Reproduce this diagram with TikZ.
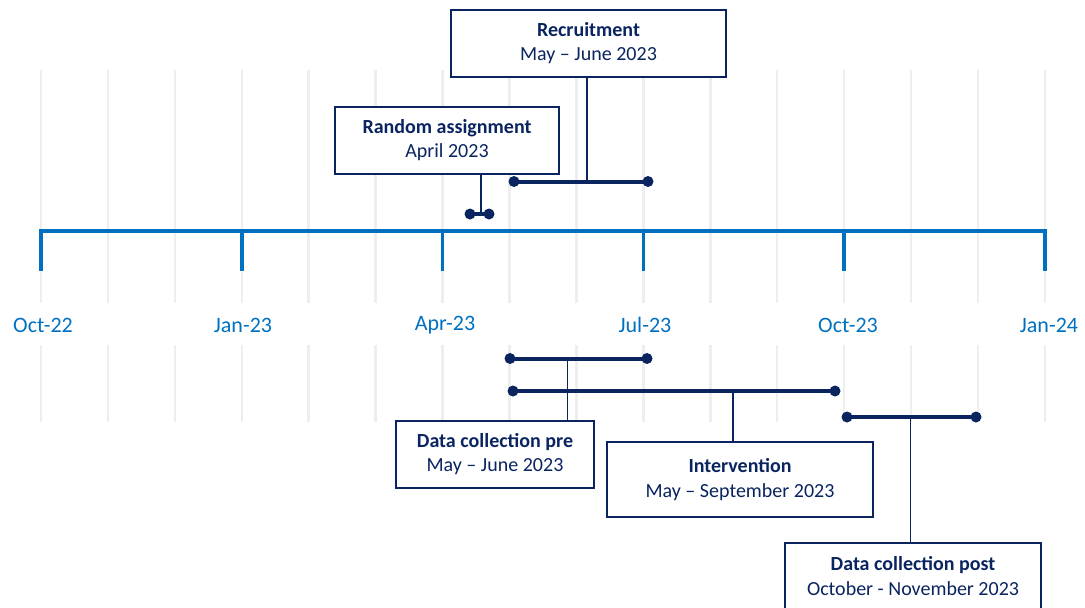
\documentclass[tikz,border=0pt]{standalone}
\usepackage{fontspec}
\setmainfont{Carlito}
\definecolor{navy}{RGB}{10,36,96}
\definecolor{axisblue}{RGB}{0,112,192}
\definecolor{gridgray}{RGB}{238,238,238}
\begin{document}
\begin{tikzpicture}[x=1pt,y=-1pt,
  gridline/.style={draw=gridgray, line width=2.5pt},
  axisline/.style={draw=axisblue, line width=3.5pt},
  axislabel/.style={text=axisblue, font=\fontsize{22}{26}\selectfont, inner sep=0pt},
  evbox/.style={draw=navy, line width=2pt, fill=white, inner sep=0pt, text=navy,
    align=center, font=\fontsize{20}{24.5}\selectfont},
  bar/.style={draw=navy, line width=4pt},
  dotmark/.style={fill=navy},
  link/.style={draw=navy, line width=1.4pt}]
\useasboundingbox (0,0) rectangle (1085,608);
% grid
\foreach \k in {0,...,15}{
  \pgfmathsetmacro{\gx}{41+66.93*\k}
  \draw[gridline] (\gx,70) -- (\gx,303);
  \draw[gridline] (\gx,345) -- (\gx,422);
}
% axis
\foreach \n/\gx in {t0/41,t1/241.8,t2/442.6,t3/643.4,t4/844.2,t5/1045}{
  \coordinate (\n) at (\gx,231);
  \coordinate (\n b) at (\gx,271);
}
\draw[axisline] (t0b) -- (t0) -- (t5) -- (t5b);
\foreach \n in {t1,t2,t3,t4}{\draw[axisline] (\n) -- (\n b);}
\node[axislabel] (l0) at (43,325) {Oct-22};
\node[axislabel] (l1) at (243,325) {Jan-23};
\node[axislabel] (l2) at (445,325) {Apr-23};
\node[axislabel] (l3) at (645,325) {Jul-23};
\node[axislabel] (l4) at (848,325) {Oct-23};
\node[axislabel] (l5) at (1049,325) {Jan-24};
% boxes
\node[evbox, minimum width=275pt, minimum height=67pt] (rec) at (588.5,43)
  {\textbf{Recruitment}\\May – June 2023};
\node[evbox, minimum width=224pt, minimum height=67pt] (ra) at (447,140)
  {\textbf{Random assignment}\\April 2023};
\node[evbox, minimum width=198pt, minimum height=67pt] (dcpre) at (495,454)
  {\textbf{Data collection pre}\\May – June 2023};
\node[evbox, minimum width=266pt, minimum height=75pt] (int) at (740,479.5)
  {\textbf{Intervention}\\May – September 2023};
\node[evbox, minimum width=256pt, minimum height=66pt] (dcpost) at (913,576)
  {\textbf{Data collection post}\\October - November 2023};
% bars
\coordinate (ra1) at (470,214); \coordinate (ra2) at (489,214); \coordinate (ram) at (481,214);
\coordinate (re1) at (514,181.5); \coordinate (re2) at (648,181.5); \coordinate (rem) at (587,181.5);
\coordinate (dp1) at (510,358.5); \coordinate (dp2) at (647,358.5); \coordinate (dpm) at (567.5,358.5);
\coordinate (iv1) at (513,391); \coordinate (iv2) at (835,391); \coordinate (ivm) at (733,391);
\coordinate (dq1) at (847,417); \coordinate (dq2) at (976,417); \coordinate (dqm) at (910.5,417);
\draw[link] (ram) -- (ram |- ra.south);
\draw[link] (rem) -- (rem |- rec.south);
\draw[link] (dpm) -- (dpm |- dcpre.north);
\draw[link] (ivm) -- (ivm |- int.north);
\draw[link] (dqm) -- (dqm |- dcpost.north);
\foreach \a/\b in {ra1/ra2,re1/re2,dp1/dp2,iv1/iv2,dq1/dq2}{
  \draw[bar] (\a) -- (\b);
  \fill[dotmark] (\a) circle (5.5pt);
  \fill[dotmark] (\b) circle (5.5pt);
}
\end{tikzpicture}
\end{document}
